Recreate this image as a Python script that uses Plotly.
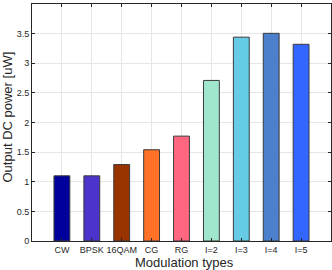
import plotly.graph_objects as go

categories = ["CW", "BPSK", "16QAM", "CG", "RG", "I=2", "I=3", "I=4", "I=5"]
values = [1.10, 1.10, 1.29, 1.54, 1.77, 2.71, 3.44, 3.505, 3.32]
colors = ["#00009c", "#4b33cc", "#993300", "#ff7126", "#ff6680", "#a0e6cc",
          "#66cce6", "#4c80cc", "#3366ff"]
yticks = [0, 0.5, 1, 1.5, 2, 2.5, 3, 3.5, 4]
ytick_labels = ["0", "0.5", "1", "1.5", "2", "2.5", "3", "3.5", "4"]

xpos = list(range(1, len(categories) + 1))

fig = go.Figure(go.Bar(
    x=xpos, y=values, width=0.53,
    marker=dict(color=colors, line=dict(color="#3a3a3a", width=1)),
))

axis_common = dict(
    showline=True, linecolor="#262626", linewidth=1, mirror="ticks",
    ticks="inside", ticklen=3, tickcolor="#262626",
    showgrid=True, gridcolor="#e6e6e6", gridwidth=1, zeroline=False,
    tickfont=dict(family="Liberation Sans, Arial", size=9, color="#262626"),
    automargin=False,
)

fig.update_layout(
    width=332, height=270,
    margin=dict(l=32, r=1, t=4, b=29),
    plot_bgcolor="white", paper_bgcolor="white",
    showlegend=False,
    font=dict(family="Liberation Sans, Arial", color="#262626"),
    xaxis=dict(range=[0, 10], tickvals=xpos, ticktext=categories, **axis_common),
    yaxis=dict(range=[0, 4], tickvals=yticks, ticktext=ytick_labels, **axis_common),
    annotations=[
        dict(text="Modulation types", xref="paper", yref="paper", x=0.5, y=0,
             xshift=3, yshift=-21, xanchor="center", yanchor="middle",
             showarrow=False, font=dict(size=13, color="#262626")),
        dict(text="Output DC power [uW]", xref="paper", yref="paper", x=0, y=0.5,
             xshift=-25, yshift=5, xanchor="center", yanchor="middle", textangle=-90,
             showarrow=False, font=dict(size=13, color="#262626")),
    ],
)

fig.write_html("out.html", config={"displayModeBar": False},
               post_script="document.body.style.margin='0';document.body.style.padding='0';")
